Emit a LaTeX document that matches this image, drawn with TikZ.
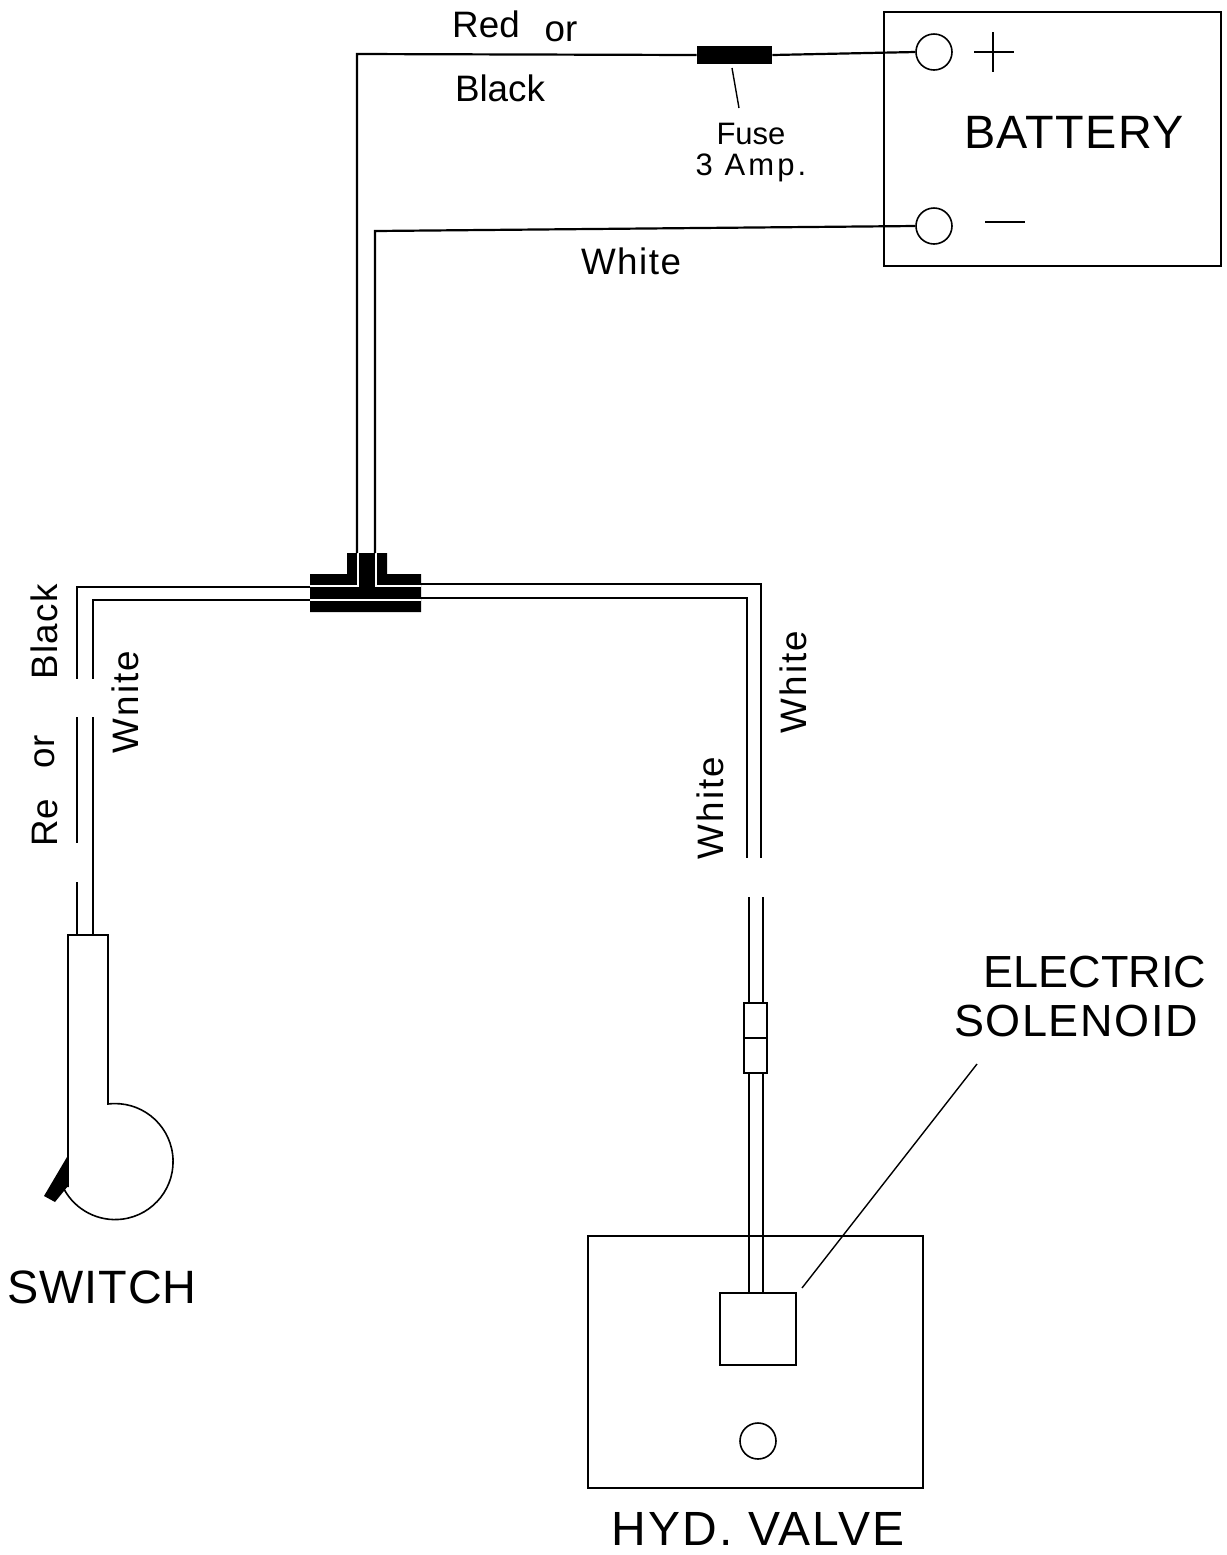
\documentclass[tikz,border=0pt]{standalone}
\usepackage{fontspec}
\setmainfont{Liberation Sans}
\newcommand{\spc}[2]{{\addfontfeature{LetterSpace=#1}#2}}
\tikzset{
  wire/.style={line width=1.1pt,line join=miter},
  outline/.style={draw,line width=0.8pt},
  term/.style={circle,draw,line width=0.8pt,inner sep=0pt,minimum size=18pt,fill=white},
  lead/.style={line width=0.7pt},
  solid block/.style={fill=black,draw=none},
  lblS/.style={inner sep=0pt,font=\fontsize{15.5}{15.5}\selectfont},
  lblM/.style={inner sep=0pt,font=\fontsize{18.4}{18.4}\selectfont},
  lblL/.style={inner sep=0pt,font=\fontsize{23.4}{23.4}\selectfont},
}
\begin{document}
\begin{tikzpicture}[x=0.5pt,y=-0.5pt]
\useasboundingbox (0,0) rectangle (1227,1555);
% battery
\node[outline,minimum width=168.5pt,minimum height=127pt,inner sep=0pt] (battery) at (1052.5,139) {};
\node[term] (pos) at (934,52) {};
\node[term] (neg) at (934,226) {};
\coordinate (plusL) at (974,52); \coordinate (plusR) at (1014,52);
\coordinate (plusT) at (993,32); \coordinate (plusB) at (993,72);
\coordinate (minusL) at (985,222); \coordinate (minusR) at (1025,222);
\draw[wire] (plusL) -- (plusR);
\draw[wire] (plusT) -- (plusB);
\draw[wire] (minusL) -- (minusR);
\node[lblL] (battext) at (1074,132) {\spc{3}{BATTERY}};
% fuse
\node[solid block,minimum width=37.5pt,minimum height=9pt,inner sep=0pt] (fuse) at (734.5,55) {};
\coordinate (fuseLeadA) at (732,68); \coordinate (fuseLeadB) at (739,108);
\draw[lead] (fuseLeadA) -- (fuseLeadB);
\node[lblS] (fusetxt) at (751,134) {Fuse};
\node[lblS] (amptxt) at (751,168) {\spc{10}{3 Amp.}};
% T connector
\fill[black] (310,574) -- (347,574) -- (347,553) -- (387,553) -- (387,574) -- (421,574) -- (421,612) -- (310,612) -- cycle;
\coordinate (tTopA) at (357,553); \coordinate (tTopB) at (375,553);
\coordinate (tLeftA) at (310,587); \coordinate (tLeftB) at (310,600);
\coordinate (tRightA) at (421,584); \coordinate (tRightB) at (421,598);
\coordinate (tInA) at (358,586); \coordinate (tInB) at (376,586);
\draw[white,line width=1.3pt] (310,586) -- (tInA) -- (358,553);
\draw[white,line width=1.3pt] (421,586) -- (tInB) -- (376,553);
\draw[white,line width=1.3pt] (310,600) -- (421,600);
% wires to battery
\coordinate (b1) at (357,54); \coordinate (b2) at (375,231);
\draw[wire] (tTopA) -- (b1) -- (fuse.west);
\draw[wire] (fuse.east) -- (pos.west);
\draw[wire] (tTopB) -- (b2) -- (neg.west);
% left wires
\coordinate (l1) at (77,587); \coordinate (l2) at (93,600);
\coordinate (la1) at (77,679); \coordinate (la2) at (77,717);
\coordinate (la3) at (77,843); \coordinate (la4) at (77,882);
\coordinate (la5) at (77,935);
\coordinate (lb1) at (93,679); \coordinate (lb2) at (93,717);
\coordinate (lb5) at (93,935);
\draw[wire] (tLeftA) -- (l1) -- (la1);
\draw[wire] (la2) -- (la3);
\draw[wire] (la4) -- (la5);
\draw[wire] (tLeftB) -- (l2) -- (lb1);
\draw[wire] (lb2) -- (lb5);
% switch
\coordinate (swTL) at (68,935); \coordinate (swTR) at (108,935);
\coordinate (swNeck) at (108,1104); \coordinate (swLow) at (68,1187);
\draw[outline] (swLow) -- (swTL) -- (swTR) -- (swNeck)
  arc[start angle=-97,end angle=151.6,radius=58];
\fill[black] (67,1157) -- (68,1186) -- (55,1202) -- (44,1196) -- cycle;
\node[lblL] (swtxt) at (102,1287) {\spc{2}{SWITCH}};
% right wires
\coordinate (r1) at (761,584); \coordinate (r2) at (747,598);
\coordinate (ra1) at (761,858); \coordinate (rb1) at (747,858);
\coordinate (ra2) at (763,897); \coordinate (rb2) at (749,897);
\draw[wire] (tRightA) -- (r1) -- (ra1);
\draw[wire] (tRightB) -- (r2) -- (rb1);
% inline connector
\node[outline,minimum width=11.5pt,minimum height=35pt,inner sep=0pt] (plug) at (755.5,1038) {};
\draw[line width=0.8pt] (plug.west) -- (plug.east);
\draw[wire] (ra2) -- (763,1003);
\draw[wire] (rb2) -- (749,1003);
% valve
\node[outline,minimum width=167.5pt,minimum height=126pt,inner sep=0pt] (valve) at (755.5,1362) {};
\node[outline,minimum width=38pt,minimum height=36pt,inner sep=0pt] (sol) at (758,1329) {};
\node[term,minimum size=18pt] (port) at (758,1441) {};
\draw[wire] (749,1073) -- (749,1293);
\draw[wire] (763,1073) -- (763,1293);
\coordinate (solLeadA) at (802,1288); \coordinate (solLeadB) at (977,1064);
\draw[lead] (solLeadA) -- (solLeadB);
\node[lblL,font=\fontsize{22.5}{22.5}\selectfont] (eltxt) at (1095,972) {ELECTRIC};
\node[lblL,font=\fontsize{22.5}{22.5}\selectfont] (sotxt) at (1076,1021) {\spc{3.5}{SOLENOID}};
\node[lblL,font=\fontsize{24}{24}\selectfont] (hydtxt) at (758,1529) {\spc{4.3}{HYD. VALVE}};
% labels
\node[lblM] (t1) at (486,24) {Red};
\node[lblM] (t2) at (561,32) {or};
\node[lblM] (t3) at (500,88) {Black};
\node[lblM] (t4) at (631,261) {\spc{4}{White}};
\node[lblM,rotate=90] (t5) at (44,632) {\spc{4}{Black}};
\node[lblM,rotate=90] (t6) at (45,752) {or};
\node[lblM,rotate=90] (t7) at (45,823) {Re};
\node[lblM,rotate=90] (t8) at (125,702) {\spc{6}{Wnite}};
\node[lblM,rotate=90] (t9) at (793,682) {\spc{6}{White}};
\node[lblM,rotate=90] (t10) at (710,808) {\spc{6}{White}};
\end{tikzpicture}
\end{document}
